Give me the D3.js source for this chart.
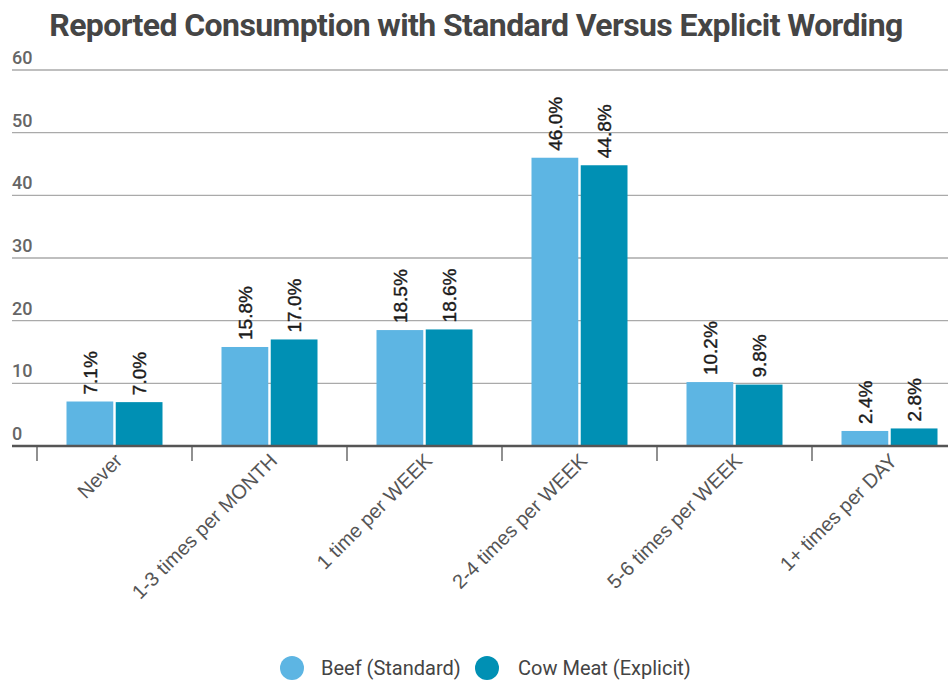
<!DOCTYPE html>
<html><head><meta charset="utf-8">
<script src="https://cdn.jsdelivr.net/npm/d3@7"></script>
<style>body{margin:0;background:#fff}svg{display:block}</style>
</head><body>
<svg id="c" width="948" height="682"></svg>
<script>
const categories = ["Never","1-3 times per MONTH","1 time per WEEK","2-4 times per WEEK","5-6 times per WEEK","1+ times per DAY"];
const seriesNames = ["Beef (Standard)","Cow Meat (Explicit)"];
const beef = [7.1,15.8,18.5,46.0,10.2,2.4];
const cowMeat = [7.0,17.0,18.6,44.8,9.8,2.8];
const yTicks = [0,10,20,30,40,50,60];
const colors = ["#5db5e3","#0090b4"];

const svg = d3.select("#c");
const x = d3.scaleBand().domain(categories).range([37, 967]).paddingInner(0).paddingOuter(0);
const y = d3.scaleLinear().domain([0,60]).range([446,70]);
const inner = d3.scaleBand().domain([0,1]).range([0, 96]).paddingInner(0.05);
const groupOff = (x.bandwidth()-96)/2;

svg.append("text").attr("x",476).attr("y",36).attr("text-anchor","middle")
  .attr("font-family","Roboto").attr("font-weight","bold").attr("font-size",32)
  .attr("fill","#454545").attr("letter-spacing","-0.6").text("Reported Consumption with Standard Versus Explicit Wording");

// grid
const g = svg.append("g");
yTicks.forEach(t=>{
  if(t>0) g.append("line").attr("x1",12).attr("x2",948).attr("y1",y(t)).attr("y2",y(t)).attr("stroke","#aaa").attr("stroke-width",1.3);
  g.append("text").attr("x",12).attr("y",y(t)-6).attr("font-family","Roboto").attr("font-weight","500").attr("font-size",18).attr("fill","#666").text(t);
});

const data = [beef, cowMeat];
categories.forEach((c,i)=>{
  data.forEach((s,j)=>{
    const bx = x(c)+groupOff+inner(j);
    svg.append("rect").attr("x",bx).attr("y",y(s[i])).attr("width",inner.bandwidth()).attr("height",y(0)-y(s[i])).attr("fill",colors[j]);
    const cx = bx+inner.bandwidth()/2;
    svg.append("text").attr("transform",`translate(${cx+7},${y(s[i])-7}) rotate(-90)`)
      .attr("font-family","Liberation Sans, Arial").attr("font-size",19).attr("fill","#1a1a1a")
      .attr("stroke","#1a1a1a").attr("stroke-width",0.4)
      .text(s[i].toFixed(1)+"%");
  });
});

// baseline + ticks
svg.append("line").attr("x1",12).attr("x2",948).attr("y1",446).attr("y2",446).attr("stroke","#555").attr("stroke-width",2.5);
categories.forEach(c=>{
  svg.append("line").attr("x1",x(c)).attr("x2",x(c)).attr("y1",447).attr("y2",461).attr("stroke","#555").attr("stroke-width",1.3);
  const cx = x(c)+x.bandwidth()/2;
  svg.append("text").attr("transform",`translate(${cx+9},${462}) rotate(-45)`).attr("text-anchor","end")
    .attr("font-family","Liberation Sans, Arial").attr("font-size",20).attr("fill","#555").text(c);
});

// legend
const leg = [{cx:292, tx:321},{cx:487, tx:518}];
seriesNames.forEach((n,j)=>{
  svg.append("circle").attr("cx",leg[j].cx).attr("cy",668).attr("r",12).attr("fill",colors[j]);
  svg.append("text").attr("x",leg[j].tx).attr("y",675).attr("font-family","Roboto").attr("font-size",20).attr("fill","#444").text(n);
});
</script>
</body></html>
